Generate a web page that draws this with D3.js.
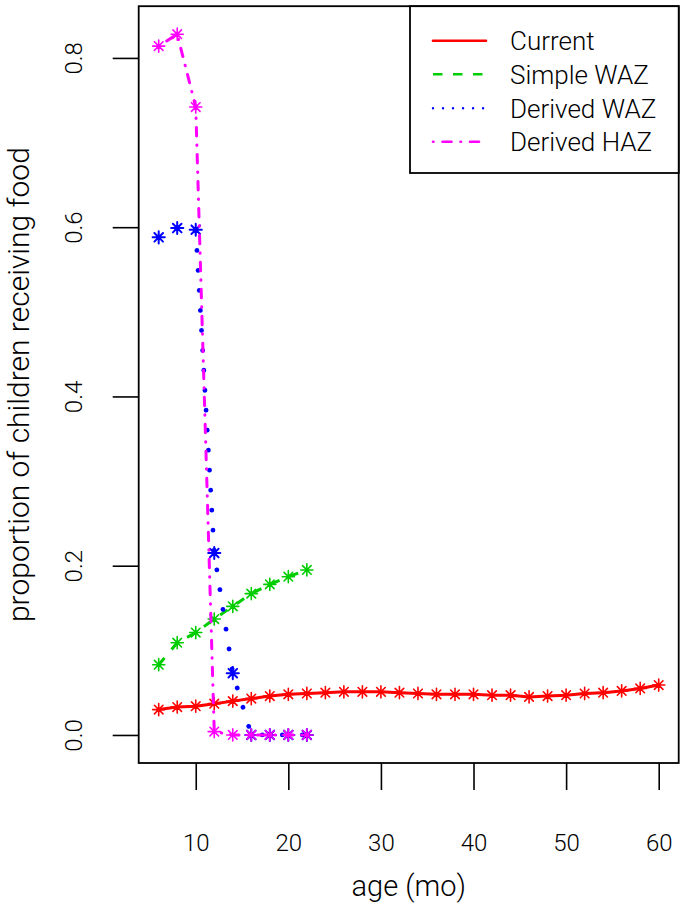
<!DOCTYPE html>
<html><head><meta charset="utf-8">
<script src="https://cdn.jsdelivr.net/npm/d3@7"></script>
<style>
html,body{margin:0;padding:0;background:#fff;}
svg{display:block;}
text{font-family:Roboto,"Liberation Sans",Arial,sans-serif;font-weight:300;fill:#000;}
</style></head>
<body>
<svg id="chart" width="687" height="916"></svg>
<script>
// ---- data ----
const agesAll = [6,8,10,12,14,16,18,20,22,24,26,28,30,32,34,36,38,40,42,44,46,48,50,52,54,56,58,60];
const currentVals = [0.030,0.033,0.034,0.037,0.040,0.043,0.046,0.048,0.049,0.050,0.051,0.051,0.051,0.050,0.049,0.048,0.048,0.048,0.047,0.047,0.045,0.046,0.047,0.049,0.050,0.052,0.055,0.059];
const agesYoung = [6,8,10,12,14,16,18,20,22];
const simpleWAZ = [0.083,0.109,0.121,0.137,0.152,0.167,0.178,0.187,0.195];
const derivedWAZ = [0.588,0.599,0.597,0.215,0.073,0.000,0.000,0.000,0.000];
const derivedHAZ = [0.814,0.828,0.742,0.004,0.000,0.000,0.000,0.000,0.000];
const xTicks = [10,20,30,40,50,60];
const yTicks = [0.0,0.2,0.4,0.6,0.8];
const seriesNames = ["Current","Simple WAZ","Derived WAZ","Derived HAZ"];
const seriesColors = ["#FF0000","#00CD00","#0000FF","#FF00FF"];

// ---- layout ----
const plot = {left:138.7, right:678.7, top:6.2, bottom:763};
const svg = d3.select("#chart");

const xExt = d3.extent(agesAll);
const allY = currentVals.concat(simpleWAZ, derivedWAZ, derivedHAZ);
const yExt = d3.extent(allY);
const xPad = (xExt[1]-xExt[0])*0.04, yPad = (yExt[1]-yExt[0])*0.04;
const x = d3.scaleLinear().domain([xExt[0]-xPad, xExt[1]+xPad]).range([plot.left, plot.right]);
const y = d3.scaleLinear().domain([yExt[0]-yPad, yExt[1]+yPad]).range([plot.bottom, plot.top]);

const FONT = "Roboto,'Liberation Sans',Arial,sans-serif";

// ---- axes ----
const xAxis = d3.axisBottom(x).tickValues(xTicks).tickSize(27).tickPadding(0).tickFormat(d3.format("d"));
const gx = svg.append("g").attr("transform",`translate(0,${plot.bottom})`).call(xAxis);
gx.select(".domain").remove();
gx.selectAll(".tick line").attr("stroke","#000").attr("stroke-width",1.6);
gx.selectAll(".tick text").attr("y",88).attr("dy",null).attr("font-size",24)
  .attr("font-family",FONT).attr("font-weight",300);

const yAxis = d3.axisLeft(y).tickValues(yTicks).tickSize(26).tickPadding(0).tickFormat(d3.format(".1f"));
const gy = svg.append("g").attr("transform",`translate(${plot.left},0)`).call(yAxis);
gy.select(".domain").remove();
gy.selectAll(".tick line").attr("stroke","#000").attr("stroke-width",1.6);
gy.selectAll(".tick text")
  .attr("x",null).attr("dy",null)
  .attr("text-anchor","middle")
  .attr("font-size",24)
  .attr("font-family",FONT).attr("font-weight",300)
  .attr("transform","translate(-57,0) rotate(-90)");

// box
svg.append("rect").attr("x",plot.left).attr("y",plot.top)
  .attr("width",plot.right-plot.left).attr("height",plot.bottom-plot.top)
  .attr("fill","none").attr("stroke","#000").attr("stroke-width",1.8);

// axis titles
svg.append("text").attr("x",(plot.left+plot.right)/2).attr("y",896)
  .attr("text-anchor","middle").attr("font-size",29).text("age (mo)");
svg.append("text").attr("transform",`translate(29,${(plot.top+plot.bottom)/2}) rotate(-90)`)
  .attr("text-anchor","middle").attr("font-size",30).text("proportion of children receiving food");

// ---- series ----
const series = [
  {name:seriesNames[0], color:seriesColors[0], xs:agesAll, ys:currentVals, width:3, dash:null, cap:"round", starW:1.6},
  {name:seriesNames[1], color:seriesColors[1], xs:agesYoung, ys:simpleWAZ, width:3, dash:"9 11", cap:"butt", starW:1.6},
  {name:seriesNames[2], color:seriesColors[2], xs:agesYoung, ys:derivedWAZ, width:4.8, dash:"0.01 20", cap:"round", starW:2.0},
  {name:seriesNames[3], color:seriesColors[3], xs:agesYoung, ys:derivedHAZ, width:3, dash:"0.5 9 8.5 9", cap:"round", starW:1.6}
];

const line = d3.line().x(d=>x(d[0])).y(d=>y(d[1]));
const r = 4.3;
series.forEach(s=>{
  const pts = s.xs.map((a,i)=>[a,s.ys[i]]);
  const g = svg.append("g");
  g.append("path").datum(pts).attr("d",line)
    .attr("fill","none").attr("stroke",s.color).attr("stroke-width",s.width)
    .attr("stroke-linecap",s.cap).attr("stroke-linejoin","round")
    .attr("stroke-dasharray",s.dash);
  const st = g.selectAll("g.star").data(pts).join("g")
    .attr("transform",d=>`translate(${x(d[0])},${y(d[1])})`);
  const rr = r*Math.SQRT2;
  st.append("path")
    .attr("d",`M${-r},${-r}L${r},${r}M${-r},${r}L${r},${-r}M${-rr},0L${rr},0M0,${-rr}L0,${rr}`)
    .attr("stroke",s.color).attr("stroke-width",s.starW).attr("fill","none").attr("stroke-linecap","round");
});

// ---- legend ----
const leg = {left:410, top:plot.top, right:plot.right, bottom:173};
svg.append("rect").attr("x",leg.left).attr("y",leg.top)
  .attr("width",leg.right-leg.left).attr("height",leg.bottom-leg.top)
  .attr("fill","#fff").attr("stroke","#000").attr("stroke-width",1.8);
const legDash = [null,"9.5 10.5","0.01 10","0.5 9 9 9"];
const legY = [40.7,74.3,108.3,141.7];
seriesNames.forEach((n,i)=>{
  svg.append("line").attr("x1",433).attr("x2",486).attr("y1",legY[i]).attr("y2",legY[i])
    .attr("stroke",seriesColors[i]).attr("stroke-width",i===2?2.4:2.6)
    .attr("stroke-linecap", i===1 ? "butt" : "round")
    .attr("stroke-dasharray",legDash[i]);
  svg.append("text").attr("x",510).attr("y",legY[i]).attr("dy","0.36em")
    .attr("font-size",26).text(n);
});
</script>
</body></html>
